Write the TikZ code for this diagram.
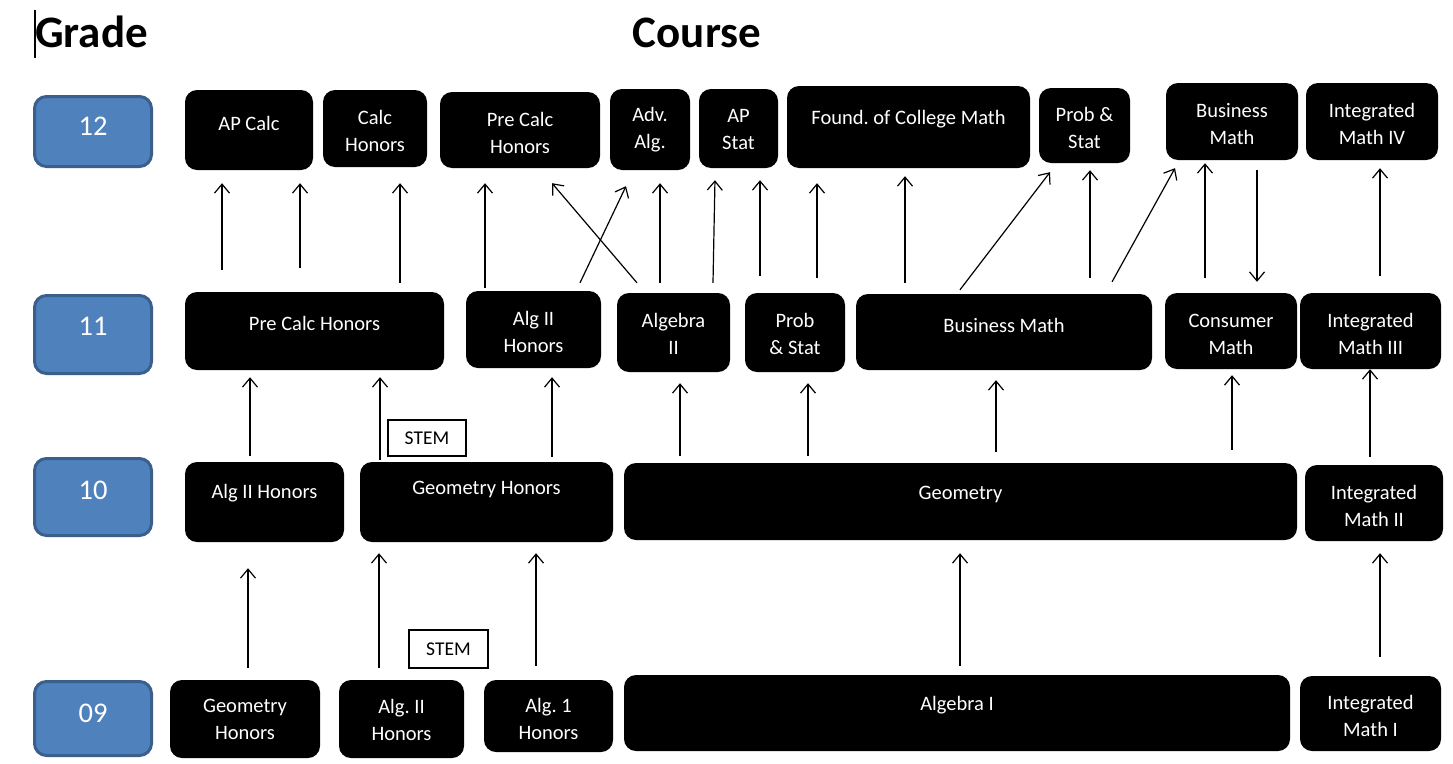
\documentclass[tikz,border=0pt]{standalone}
\usepackage{fontspec}
\setmainfont{Carlito}
\usetikzlibrary{arrows.meta,fit,calc}
\definecolor{gblue}{HTML}{4F81BD}
\definecolor{gborder}{HTML}{3A5F8C}
\frenchspacing
\newcommand\crsbox[7]{%
  \node[cbox, fit={(#2,#3) (#4,#5)}] (#1) {};
  \node[ctext] (#1t) at (#1.center |- 0,#6) {#7};}
\newcommand\uparr[5]{\draw[arr, shorten <=#4pt, shorten >=#5pt] (#1.north -| #3,0) -- (#2.south -| #3,0);}
\begin{document}
\begin{tikzpicture}[x=1pt,y=-1pt,
  cbox/.style={fill=black, rounded corners=12pt, inner sep=0pt},
  ctext/.style={text=white, font=\fontsize{20.5}{27}\selectfont, align=center, inner sep=0pt},
  gbox/.style={fill=gblue, draw=gborder, line width=3pt, rounded corners=12pt, inner sep=0pt},
  gtext/.style={text=white, font=\fontsize{28.5}{30}\selectfont, inner sep=0pt},
  stem/.style={draw=black, line width=1.2pt, fill=white, font=\fontsize{19.5}{22}\selectfont, inner sep=0pt},
  arr/.style={line width=1.2pt, -{Straight Barb[length=9pt,width=15pt,line width=1.2pt]}},
  title/.style={font=\fontsize{45}{48}\selectfont\bfseries, inner sep=0pt}]
\useasboundingbox (0,0) rectangle (1453,763);
\fill[white] (0,0) rectangle (1453,763);
% titles
\node[title, anchor=base west] (tgrade) at (35,47) {Grade};
\node[title, anchor=base] (tcourse) at (697,47) {Course};
\draw[line width=1.3pt] (35,10) -- (35,58);
% grade boxes
\node[gbox, fit={(34.5,96.5) (151.5,166.5)}] (g12) {};
\node[gtext] (g12t) at (g12.center |- 0,126) {12};
\node[gbox, fit={(34.5,295.5) (151.5,373.5)}] (g11) {};
\node[gtext] (g11t) at (g11.center |- 0,326) {11};
\node[gbox, fit={(34.5,458.5) (151.5,535.5)}] (g10) {};
\node[gtext] (g10t) at (g10.center |- 0,490) {10};
\node[gbox, fit={(34.5,681.5) (151.5,755.5)}] (g09) {};
\node[gtext] (g09t) at (g09.center |- 0,713) {09};
% row 12
\crsbox{apcalc}{185}{90}{313}{170}{123}{AP Calc}
\crsbox{calch}{323}{90}{427}{167}{131}{Calc\\Honors}
\crsbox{pct}{440}{92}{600}{168}{133}{Pre Calc\\Honors}
\crsbox{advalg}{610}{89}{690}{170}{130}{Adv.\\Alg.}
\crsbox{apstat}{699}{89}{778}{168}{129}{AP\\Stat}
\crsbox{found}{787}{86}{1030}{168}{119}{Found. of College Math}
\crsbox{pst}{1039}{88}{1130}{163}{128}{Prob \&\\Stat}
\crsbox{bmt}{1166}{83}{1298}{160}{124}{Business\\Math}
\crsbox{imiv}{1306}{83}{1438}{160}{124}{Integrated\\Math IV}
% row 11
\crsbox{pce}{185}{292}{444}{370}{323}{Pre Calc Honors}
\crsbox{ahe}{466}{291}{601}{368}{332}{Alg II\\Honors}
\crsbox{algii}{617}{293}{730}{372}{334}{Algebra\\II}
\crsbox{pse}{745}{293}{845}{372}{334}{Prob\\\& Stat}
\crsbox{bme}{856}{294}{1152}{370}{325}{Business Math}
\crsbox{cons}{1165}{293}{1297}{369}{334}{Consumer\\Math}
\crsbox{imiii}{1300}{293}{1441}{369}{334}{Integrated\\Math III}
% row 10
\crsbox{ahten}{185}{462}{344}{542}{493}{Alg II Honors}
\crsbox{ghten}{360}{462}{613}{542}{489}{Geometry Honors}
\crsbox{geo}{624}{463}{1297}{540}{494}{Geometry}
\crsbox{imii}{1305}{465}{1443}{541}{506}{Integrated\\Math II}
% row 09
\crsbox{ghn}{170}{680}{320}{758}{719}{Geometry\\Honors}
\crsbox{ahn}{339}{680}{464}{758}{720}{Alg. II\\Honors}
\crsbox{aon}{484}{680}{613}{752}{719}{Alg. 1\\Honors}
\crsbox{algi}{624}{675}{1290}{751}{705}{Algebra I}
\crsbox{imi}{1300}{676}{1441}{751}{716}{Integrated\\Math I}
% STEM labels
\node[stem, minimum width=78pt, minimum height=36pt] (stema) at (427,438) {STEM};
\node[stem, minimum width=79pt, minimum height=38pt] (stemb) at (448.5,649) {STEM};
% arrows 11 -> 12
\uparr{pce}{apcalc}{222}{22}{13}
\uparr{pce}{apcalc}{300}{24}{13}
\uparr{pce}{calch}{400}{9}{16}
\uparr{ahe}{pct}{485}{3}{15}
\draw[arr, shorten <=13.1pt, shorten >=19.7pt] (algii.north -| 645.5,0) -- (pct.south -| 539.25,0);
\draw[arr, shorten <=8.9pt, shorten >=17.7pt] (ahe.north -| 576.2,0) -- (advalg.south -| 633.6,0);
\uparr{algii}{advalg}{660}{10}{13}
\draw[arr, shorten <=10pt, shorten >=12pt] (algii.north -| 712.8,0) -- (apstat.south -| 715.2,0);
\uparr{pse}{apstat}{760}{17}{12}
\uparr{pse}{found}{817}{15}{15}
\uparr{bme}{found}{905}{11}{8}
\draw[arr, shorten <=5pt, shorten >=11.3pt] (bme.north -| 956.9,0) -- (pst.south -| 1056.9,0);
\uparr{bme}{pst}{1090}{16}{7}
\draw[arr, shorten <=13.7pt, shorten >=9.1pt] (bme.north -| 1105.4,0) -- (bmt.south -| 1179.4,0);
\uparr{cons}{bmt}{1205}{15}{3}
\draw[arr, shorten <=10pt, shorten >=11pt] (bmt.south -| 1257,0) -- (cons.north -| 1257,0);
\uparr{imiii}{imiv}{1380}{17}{8}
% arrows 10 -> 11
\uparr{ahten}{pce}{250}{6}{7}
\uparr{ghten}{pce}{380}{2}{7}
\uparr{ghten}{ahe}{552}{5}{9}
\uparr{geo}{algii}{680}{7}{11}
\uparr{geo}{pse}{808}{7}{11}
\uparr{geo}{bme}{996}{11}{10}
\uparr{geo}{cons}{1232}{13}{6}
\uparr{imii}{imiii}{1370}{8}{0}
% arrows 09 -> 10
\uparr{ghn}{ahten}{248}{12}{26}
\uparr{ahn}{ghten}{379}{12}{11}
\uparr{aon}{ghten}{536}{14}{11}
\uparr{algi}{geo}{960}{9}{13}
\uparr{imi}{imii}{1380}{19}{12}
\end{tikzpicture}
\end{document}
